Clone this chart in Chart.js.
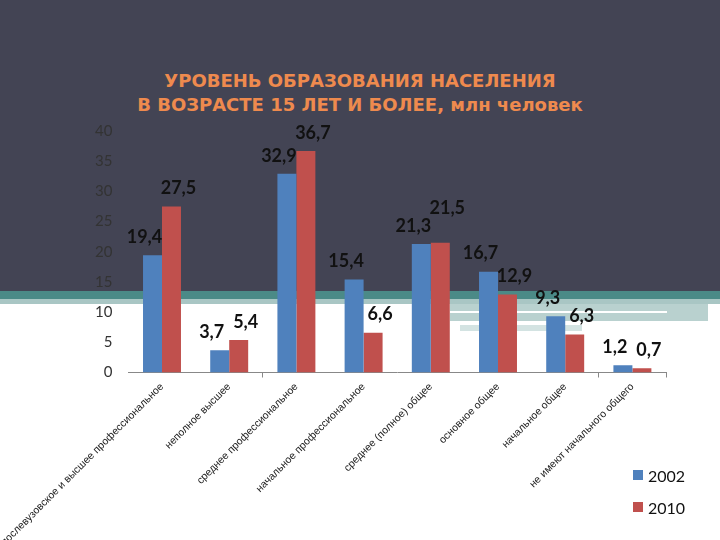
<!DOCTYPE html>
<html>
<head>
<meta charset="utf-8">
<script src="https://cdn.jsdelivr.net/npm/chart.js@4.4.0/dist/chart.umd.min.js"></script>
<style>
    html, body { margin: 0; padding: 0; }
    body { width: 720px; height: 540px; position: relative; overflow: hidden; background: #ffffff; }
    .bg-dark { position: absolute; left: 0; top: 0; width: 720px; height: 291px; background: #434454; }
    .bg-teal { position: absolute; left: 0; top: 291px; width: 720px; height: 8px; background: #4b8a87; }
    .bg-light { position: absolute; left: 0; top: 299px; width: 720px; height: 5px; background: #a9c6c4; }
    .bg-stripe1 { position: absolute; left: 450px; top: 304px; width: 258px; height: 17px; background: #b9d1cf; }
    .bg-line1 { position: absolute; left: 450px; top: 311px; width: 217px; height: 2px; background: #ffffff; }
    .bg-stripe2 { position: absolute; left: 460px; top: 325px; width: 122px; height: 6px; background: #d3e3e2; }
    #title {
        position: absolute; left: 0; top: 69px; width: 720px; text-align: center;
        font-family: "DejaVu Sans", sans-serif; font-weight: bold;
        font-size: 18px; line-height: 24px; color: #ee8a4e;
    }
    #chart { position: absolute; left: 0; top: 0; }
    #legend { position: absolute; left: 633px; top: 463px; font-family: Lato, sans-serif; font-size: 16px; color: #111; }
    .leg-row { display: flex; align-items: center; height: 24px; margin-bottom: 8px; }
    .leg-box { width: 10px; height: 10px; margin-right: 5px; }
</style>
</head>
<body>
<div class="bg-dark"></div>
<div class="bg-teal"></div>
<div class="bg-light"></div>
<div class="bg-stripe1"></div>
<div class="bg-line1"></div>
<div class="bg-stripe2"></div>
<div id="title">УРОВЕНЬ ОБРАЗОВАНИЯ НАСЕЛЕНИЯ<br>В ВОЗРАСТЕ 15 ЛЕТ И БОЛЕЕ, млн человек</div>
<canvas id="chart" width="720" height="540"></canvas>
<div id="legend"></div>
<script>
const categories = [
    'послевузовское и высшее профессиональное',
    'неполное высшее',
    'среднее профессиональное',
    'начальное профессиональное',
    'среднее (полное) общее',
    'основное общее',
    'начальное общее',
    'не имеют начального общего'
];
const seriesNames = ['2002', '2010'];
const values2002 = [19.4, 3.7, 32.9, 15.4, 21.3, 16.7, 9.3, 1.2];
const values2010 = [27.5, 5.4, 36.7, 6.6, 21.5, 12.9, 6.3, 0.7];
const yMin = 0;
const yMax = 40;
const yStep = 5;

const colors = ['#4f81bd', '#c0504d'];

// value labels above the bars, blue nudged left and red nudged right;
// if the two labels of a group would collide, the taller bar's label goes up
const valueLabels = {
    id: 'valueLabels',
    afterDatasetsDraw(chart) {
        const ctx = chart.ctx;
        ctx.save();
        ctx.font = 'bold 18px Lato, sans-serif';
        ctx.fillStyle = '#111';
        ctx.textAlign = 'center';
        ctx.textBaseline = 'bottom';
        const m0 = chart.getDatasetMeta(0);
        const m1 = chart.getDatasetMeta(1);
        const d0 = chart.data.datasets[0].data;
        const d1 = chart.data.datasets[1].data;
        const fmt = (v) => v.toFixed(1).replace('.', ',');
        m0.data.forEach((b0, i) => {
            const b1 = m1.data[i];
            const t0 = fmt(d0[i]), t1 = fmt(d1[i]);
            const x0 = b0.x - 8, x1 = b1.x + 7;
            let y0 = b0.y - 9, y1 = b1.y - 9;
            const w = (ctx.measureText(t0).width + ctx.measureText(t1).width) / 2;
            if (x1 - x0 < w + 2 && Math.abs(y1 - y0) < 18) {
                if (y1 <= y0) y1 = y0 - 18; else y0 = y1 - 18;
            }
            ctx.fillText(t0, x0, y0);
            ctx.fillText(t1, x1, y1);
        });
        ctx.restore();
    }
};

const chart = new Chart(document.getElementById('chart'), {
    type: 'bar',
    data: {
        labels: categories,
        datasets: [
            { label: seriesNames[0], data: values2002, backgroundColor: colors[0] },
            { label: seriesNames[1], data: values2010, backgroundColor: colors[1] }
        ]
    },
    options: {
        responsive: false,
        animation: false,
        categoryPercentage: 0.565,
        barPercentage: 1,
        layout: { padding: { left: 0, top: 131, right: 54, bottom: 0 } },
        plugins: {
            legend: { display: false },
            tooltip: { enabled: false }
        },
        scales: {
            x: {
                grid: {
                    display: true,
                    drawOnChartArea: false,
                    drawTicks: true,
                    tickLength: 5,
                    color: (c) => (c.index === 2 || c.index === 7 || c.index === undefined) ? '#888' : 'rgba(0,0,0,0)'
                },
                border: { display: true, color: '#888', width: 1 },
                ticks: {
                    autoSkip: false,
                    minRotation: 45,
                    maxRotation: 45,
                    padding: 3,
                    color: '#222',
                    font: { family: '"Liberation Sans", Arial, sans-serif', size: 10.5 }
                },
                afterFit(scale) {
                    scale.paddingLeft = 0;
                    scale.paddingRight = 0;
                    scale.height = 167.5;
                }
            },
            y: {
                min: yMin,
                max: yMax,
                grid: { display: false, drawTicks: false },
                border: { display: false },
                ticks: {
                    stepSize: yStep,
                    padding: 16,
                    color: '#333',
                    font: { family: 'Lato, sans-serif', size: 15 }
                },
                afterFit(scale) {
                    scale.width = 128.4;
                    scale.paddingTop = 0;
                    scale.paddingBottom = 0;
                }
            }
        }
    },
    plugins: [valueLabels]
});

const legend = document.getElementById('legend');
seriesNames.forEach((name, i) => {
    const row = document.createElement('div');
    row.className = 'leg-row';
    row.innerHTML = `<span class="leg-box" style="background:${colors[i]}"></span><span>${name}</span>`;
    legend.appendChild(row);
});
</script>
</body>
</html>
